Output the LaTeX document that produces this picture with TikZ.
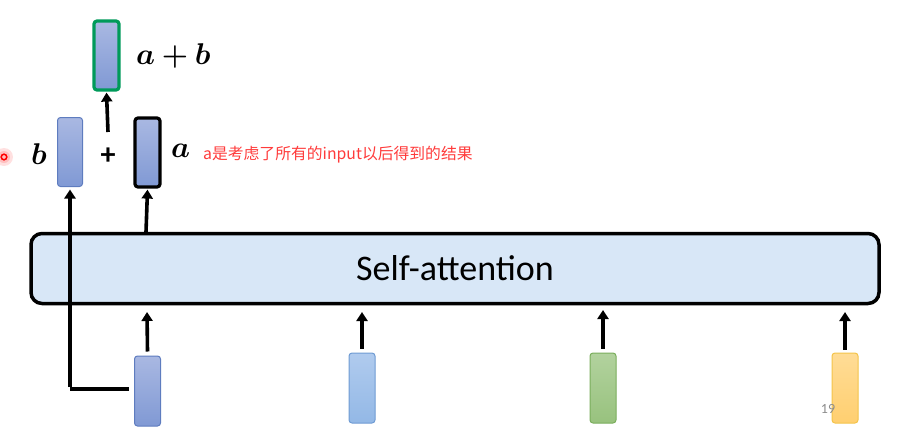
\RequirePackage{fix-cm}
\documentclass[tikz,border=0pt]{standalone}
\usepackage{fontspec}
\usepackage{amsmath,bm}
\usetikzlibrary{arrows.meta}
\newfontfamily\cjk{Noto Sans CJK SC}
\newfontfamily\calib{Carlito}
\definecolor{saFill}{HTML}{D8E7F7}
\definecolor{vTop}{HTML}{A9B8E2}
\definecolor{vBot}{HTML}{8099D4}
\definecolor{vEdge}{HTML}{5E7CBF}
\definecolor{lbTop}{HTML}{B0CBEE}
\definecolor{lbBot}{HTML}{93B8E6}
\definecolor{lbEdge}{HTML}{6F9BD3}
\definecolor{gTop}{HTML}{B2D29E}
\definecolor{gBot}{HTML}{98C27E}
\definecolor{gEdge}{HTML}{7AAE5C}
\definecolor{yTop}{HTML}{FFDC96}
\definecolor{yBot}{HTML}{FFCF70}
\definecolor{yEdge}{HTML}{F4C44A}
\definecolor{sumEdge}{HTML}{009A5A}
\definecolor{noteRed}{HTML}{FF3B3B}
\definecolor{pageGray}{HTML}{8C8C8C}
\tikzset{
  vec/.style={draw, line width=1pt, rounded corners=3pt, minimum width=26pt, minimum height=70pt, inner sep=0pt},
  blueVec/.style={vec, draw=vEdge, top color=vTop, bottom color=vBot},
  lbVec/.style={vec, draw=lbEdge, top color=lbTop, bottom color=lbBot},
  greenVec/.style={vec, draw=gEdge, top color=gTop, bottom color=gBot},
  yellowVec/.style={vec, draw=yEdge, top color=yTop, bottom color=yBot},
  conn/.style={line width=3.6pt, -{Triangle[width=11pt,length=9pt]}},
  plainline/.style={line width=3.6pt},
  mathlab/.style={inner sep=0pt, font=\fontsize{30}{33}\selectfont}
}
\begin{document}
\begin{tikzpicture}[x=1pt,y=-1pt]
\useasboundingbox (0,0) rectangle (903,429);
% self-attention layer
\node (sa) [draw, line width=3.5pt, rounded corners=11pt, fill=saFill, minimum width=848pt, minimum height=70pt, inner sep=0pt] at (455,268.5) {};
\node (satext) at (455,268) {\calib\fontsize{36}{40}\selectfont Self-attention};
% inputs
\node (x1) [blueVec] at (147.5,391) {};
\node (x2) [lbVec] at (362,388) {};
\node (x3) [greenVec] at (603,388) {};
\node (x4) [yellowVec] at (845,388) {};
\coordinate (t1) at (147,312);
\coordinate (t2) at (362,312);
\coordinate (t3) at (603,310);
\coordinate (t4) at (845,312);
\draw[conn] ([yshift=4pt]x1.north) -- (t1);
\draw[conn] ([yshift=4pt]x2.north) -- (t2);
\draw[conn] ([yshift=4pt]x3.north) -- (t3);
\draw[conn] ([yshift=3pt]x4.north) -- (t4);
% outputs
\node (a) [vec, draw=black, line width=3.2pt, top color=vTop, bottom color=vBot, minimum width=25pt, minimum height=69pt] at (147.5,152.5) {};
\node (b) [blueVec, minimum width=25pt, minimum height=69pt] at (70,152) {};
\node (s) [vec, draw=sumEdge, line width=3.2pt, top color=vTop, bottom color=vBot, minimum width=25pt, minimum height=69pt] at (106.5,55.5) {};
\draw[conn] (146,232) -- ([yshift=-1pt]a.south);
% residual connection
\coordinate (c1) at (70,389);
\draw[plainline] (129,389) -- (c1);
\draw[conn] ([yshift=1.8pt]c1) -- ([yshift=-2.5pt]b.south);
% plus and sum
\node (plus) at (108,156) {\calib\bfseries\fontsize{30}{32}\selectfont +};
\draw[conn] (108,132) -- ([yshift=-1pt]s.south);
% labels
\node (la) [mathlab, anchor=west] at (171,151) {$\bm{a}$};
\node (lb) [mathlab, anchor=east] at (47,154) {$\bm{b}$};
\node (lab) [mathlab, anchor=west] at (136,56) {$\bm{a+b}$};
\node (note) [anchor=west, inner sep=0pt, text=noteRed] at (203,155) {\cjk\fontsize{15.8}{17}\selectfont a是考虑了所有的input以后得到的结果};
% page number
\node (pg) [anchor=center, inner sep=0pt, text=pageGray] at (828,409) {\calib\fontsize{14}{16}\selectfont 19};
% laser pointer mark
\fill[red, opacity=0.12] (4,157) circle (9pt);
\fill[red, opacity=0.15] (4,157) circle (6pt);
\draw[red, line width=1.5pt] (4,157) circle (2.8pt);
\end{tikzpicture}
\end{document}
